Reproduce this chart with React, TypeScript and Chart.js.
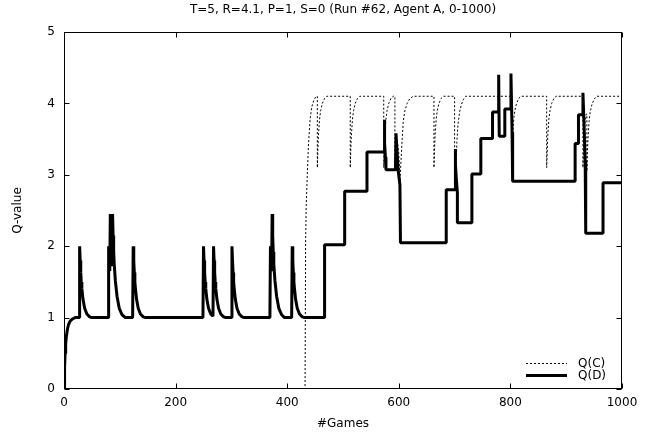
import React, { useEffect, useRef } from 'react';
import { Chart, registerables } from 'chart.js';

Chart.register(...registerables);

const TITLE = 'T=5, R=4.1, P=1, S=0 (Run #62, Agent A, 0-1000)';
const X_LABEL = '#Games';
const Y_LABEL = 'Q-value';
const SERIES_NAMES = ['Q(C)', 'Q(D)'];
const X_TICKS = [0, 200, 400, 600, 800, 1000];
const Y_TICKS = [0, 1, 2, 3, 4, 5];

// Q(C): game index and value
const qcX = [
  0, 432, 433, 434, 436, 438, 441, 444, 448, 452,
  454, 454, 455, 456, 458, 460, 463, 467, 471,
  513, 513, 514, 515, 517, 519, 522, 526, 530,
  573, 573, 574, 575, 577, 579, 582, 586, 590,
  593, 593, 595, 597, 600, 602, 604, 606, 608, 611, 615, 620, 626,
  663, 663, 664, 665, 667, 669, 672, 676, 680,
  700, 700, 702, 703, 704, 706, 709, 712, 716, 720,
  802, 802, 803, 804, 806, 808, 811, 815, 819,
  865, 865, 866, 867, 869, 871, 874, 878, 882,
  930, 930, 931, 932, 934, 936, 937, 937, 938, 939, 941, 943, 946, 950, 955, 1000,
];
const qcY = [
  0, 0, 2.05, 2.55, 3.0, 3.4, 3.78, 3.95, 4.05, 4.1,
  4.1, 3.1, 3.35, 3.55, 3.78, 3.9, 4.0, 4.07, 4.1,
  4.1, 3.1, 3.35, 3.55, 3.78, 3.9, 4.0, 4.07, 4.1,
  4.1, 3.1, 3.35, 3.55, 3.78, 3.9, 4.0, 4.07, 4.1,
  4.1, 3.1, 3.35, 3.5, 3.3, 2.9, 3.2, 3.5, 3.75, 3.9, 4.0, 4.07, 4.1,
  4.1, 3.1, 3.35, 3.55, 3.78, 3.9, 4.0, 4.07, 4.1,
  4.1, 3.1, 2.95, 3.2, 3.45, 3.7, 3.88, 3.98, 4.06, 4.1,
  4.1, 3.1, 3.35, 3.55, 3.78, 3.9, 4.0, 4.07, 4.1,
  4.1, 3.1, 3.35, 3.55, 3.78, 3.9, 4.0, 4.07, 4.1,
  4.1, 3.1, 3.35, 3.55, 3.75, 3.85, 3.85, 3.05, 3.3, 3.5, 3.75, 3.88, 3.98, 4.06, 4.1, 4.1,
];

// Q(D): game index and value
const qdX = [
  0, 1, 2, 3, 4, 6, 8, 11, 15, 20,
  27, 28, 29, 30, 31, 32, 34, 37, 41, 46, 50,
  79, 80, 81, 82, 83, 84, 85, 86, 87, 88, 89, 90, 92, 95, 99, 104, 110,
  123, 124, 125, 126, 127, 128, 130, 133, 137, 142, 146,
  249, 250, 251, 252, 253, 254, 256, 259, 263, 267, 268, 269, 270, 271, 272, 274, 277, 281, 286, 290,
  300, 301, 302, 303, 304, 305, 307, 310, 314, 319, 323,
  369, 370, 371, 372, 373, 374, 375, 376, 378, 381, 385, 390, 395,
  408, 409, 410, 411, 412, 413, 415, 418, 422, 427, 431,
  467, 467, 503, 503, 543, 543, 574, 574, 575, 576, 577, 594, 595, 597, 599, 602, 603,
  685, 685, 701, 701, 702, 703, 705, 705, 731, 731, 747, 747, 768, 768, 778, 779, 780,
  790, 790, 800, 801, 803, 804, 916, 916, 922, 922, 929, 930, 932, 934, 935, 935,
  966, 966, 1000,
];
const qdY = [
  0, 0.3, 0.5, 0.63, 0.72, 0.83, 0.9, 0.95, 0.98, 1,
  1, 2, 1.8, 1.63, 1.5, 1.41, 1.26, 1.13, 1.05, 1.01, 1,
  1, 2, 1.8, 1.65, 2.45, 2.15, 1.9, 1.72, 2.45, 2.15, 1.92, 1.75, 1.52, 1.3, 1.13, 1.04, 1,
  1, 2, 1.8, 1.63, 1.5, 1.41, 1.26, 1.13, 1.05, 1.01, 1,
  1, 2, 1.8, 1.63, 1.5, 1.41, 1.26, 1.13, 1.05, 1.02, 2, 1.8, 1.63, 1.5, 1.41, 1.26, 1.13, 1.05, 1.01, 1,
  1, 2, 1.8, 1.63, 1.5, 1.41, 1.26, 1.13, 1.05, 1.01, 1,
  1, 2, 1.8, 1.65, 2.45, 2.15, 1.92, 1.75, 1.52, 1.3, 1.13, 1.04, 1,
  1, 2, 1.8, 1.63, 1.5, 1.41, 1.26, 1.13, 1.05, 1.01, 1,
  1, 2.02, 2.02, 2.77, 2.77, 3.32, 3.32, 3.77, 3.45, 3.25, 3.07, 3.07, 3.58, 3.3, 3.05, 2.86, 2.05,
  2.05, 2.79, 2.79, 3.36, 3.15, 2.95, 2.75, 2.33, 2.33, 3.01, 3.01, 3.51, 3.51, 3.88, 3.88, 4.4, 3.54,
  3.54, 3.92, 3.92, 4.42, 3.6, 2.91, 2.91, 3.44, 3.44, 3.84, 3.84, 4.15, 3.7, 3.2, 3.0, 2.18,
  2.18, 2.89, 2.89,
];

const FONT = '"DejaVu Sans", sans-serif';

const framePlugin = {
  id: 'gnuFrame',
  beforeDatasetsDraw(chart: any) {
    const { ctx, chartArea, scales } = chart;
    const l = Math.round(chartArea.left) + 0.5;
    const r = Math.round(chartArea.right) - 0.5;
    const t = Math.round(chartArea.top) + 0.5;
    const b = Math.round(chartArea.bottom) - 0.5;
    ctx.save();
    ctx.strokeStyle = '#000';
    ctx.lineWidth = 1;
    ctx.setLineDash([]);
    ctx.strokeRect(l, t, r - l, b - t);
    const len = 5;
    ctx.beginPath();
    X_TICKS.forEach((v) => {
      const px = Math.round(scales.x.getPixelForValue(v)) + 0.5;
      ctx.moveTo(px, b);
      ctx.lineTo(px, b - len);
      ctx.moveTo(px, t);
      ctx.lineTo(px, t + len);
    });
    Y_TICKS.forEach((v) => {
      const py = Math.round(scales.y.getPixelForValue(v)) + 0.5;
      ctx.moveTo(l, py);
      ctx.lineTo(l + len, py);
      ctx.moveTo(r, py);
      ctx.lineTo(r - len, py);
    });
    ctx.stroke();
    ctx.restore();
  },
  afterDraw(chart: any) {
    const { ctx, chartArea } = chart;
    ctx.save();
    ctx.fillStyle = '#000';
    ctx.font = '12px ' + FONT;
    ctx.textAlign = 'center';
    ctx.textBaseline = 'middle';
    ctx.fillText(TITLE, (chartArea.left + chartArea.right) / 2, 10);

    // legend
    const textX = chartArea.right - 44;
    const lineX0 = chartArea.right - 96;
    const lineX1 = chartArea.right - 55;
    const rows = [chartArea.bottom - 25.5, chartArea.bottom - 13.5];
    ctx.textAlign = 'left';
    ctx.strokeStyle = '#000';
    // Q(C)
    ctx.lineWidth = 1;
    ctx.setLineDash([2, 2]);
    ctx.beginPath();
    ctx.moveTo(lineX0, rows[0]);
    ctx.lineTo(lineX1, rows[0]);
    ctx.stroke();
    ctx.fillText(SERIES_NAMES[0], textX, rows[0]);
    // Q(D)
    ctx.setLineDash([]);
    ctx.lineWidth = 3;
    ctx.beginPath();
    ctx.moveTo(lineX0, rows[1]);
    ctx.lineTo(lineX1, rows[1]);
    ctx.stroke();
    ctx.fillText(SERIES_NAMES[1], textX, rows[1]);
    ctx.restore();
  },
};

export default function App() {
  const ref = useRef<HTMLCanvasElement | null>(null);

  useEffect(() => {
    if (!ref.current) return;
    Chart.defaults.font.family = FONT;
    Chart.defaults.font.size = 12;
    Chart.defaults.color = '#000';
    const qc = qcX.map((x, i) => ({ x, y: qcY[i] }));
    const qd = qdX.map((x, i) => ({ x, y: qdY[i] }));
    const chart = new Chart(ref.current, {
      type: 'line',
      data: {
        datasets: [
          {
            label: SERIES_NAMES[0],
            data: qc,
            borderColor: '#000',
            borderWidth: 1,
            borderDash: [2, 2],
            pointRadius: 0,
            tension: 0,
            fill: false,
            order: 1,
          },
          {
            label: SERIES_NAMES[1],
            data: qd,
            borderColor: '#000',
            borderWidth: 3,
            borderJoinStyle: 'bevel',
            pointRadius: 0,
            tension: 0,
            fill: false,
            order: 0,
          },
        ],
      },
      options: {
        animation: false,
        responsive: false,
        events: [],
        layout: { padding: { left: 0, right: 40, top: 32, bottom: 0 } },
        plugins: {
          legend: { display: false },
          title: { display: false },
          tooltip: { enabled: false },
        },
        scales: {
          x: {
            type: 'linear',
            min: 0,
            max: 1000,
            grid: { display: false, drawTicks: false },
            border: { display: false },
            ticks: {
              stepSize: 200,
              padding: 7,
              maxRotation: 0,
              font: { size: 12, family: FONT },
              color: '#000',
              callback: (v: any) => String(v),
            },
            title: {
              display: true,
              text: X_LABEL,
              font: { size: 12, family: FONT },
              color: '#000',
              padding: { top: 0, bottom: 8 },
            },
            afterFit(scale: any) {
              scale.height = 50;
            },
          },
          y: {
            type: 'linear',
            min: 0,
            max: 5,
            grid: { display: false, drawTicks: false },
            border: { display: false },
            ticks: {
              stepSize: 1,
              padding: 9,
              font: { size: 12, family: FONT },
              color: '#000',
              callback: (v: any) => String(v),
            },
            title: {
              display: true,
              text: Y_LABEL,
              font: { size: 12, family: FONT },
              color: '#000',
              padding: { top: 11, bottom: 0 },
            },
            afterFit(scale: any) {
              scale.width = 64;
            },
          },
        },
      },
      plugins: [framePlugin],
    } as any);
    return () => chart.destroy();
  }, []);

  return (
    <div style={{ position: 'fixed', left: 0, top: 0, width: 662, height: 439, background: '#fff' }}>
      <canvas ref={ref} width={662} height={439} style={{ display: 'block' }} />
    </div>
  );
}
